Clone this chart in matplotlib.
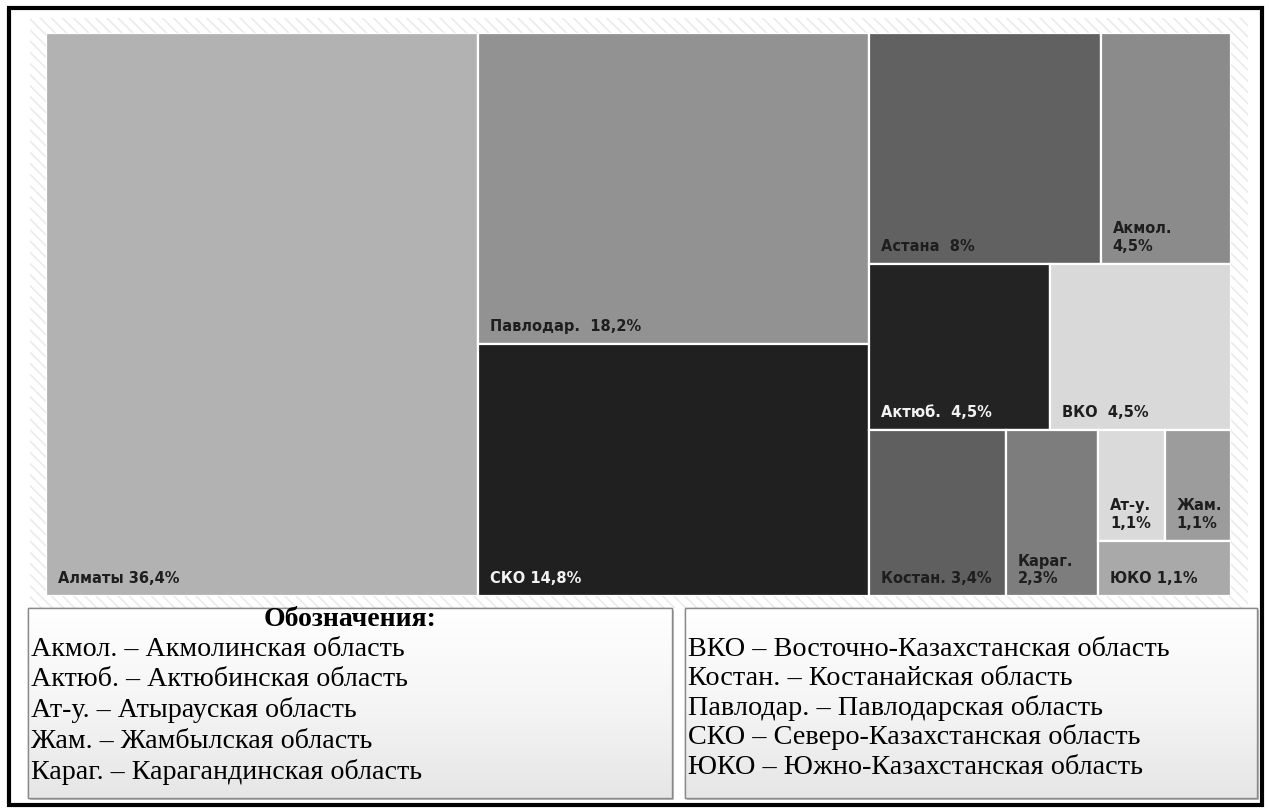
import matplotlib.pyplot as plt
import matplotlib.patches as mpatches
from matplotlib.colors import LinearSegmentedColormap
import numpy as np

# regions and their share, %
labels = ["Алматы", "Павлодар.", "СКО", "Астана", "Акмол.", "Актюб.",
          "ВКО", "Костан.", "Караг.", "Ат-у.", "Жам.", "ЮКО"]
shares = [36.4, 18.2, 14.8, 8, 4.5, 4.5, 4.5, 3.4, 2.3, 1.1, 1.1, 1.1]
fills = ["#b2b2b2", "#929292", "#202020", "#616161", "#8b8b8b", "#232323",
         "#d9d9d9", "#5f5f5f", "#7d7d7d", "#dadada", "#9c9c9c", "#a9a9a9"]
text_colors = ["#1e1e1e", "#1e1e1e", "#f2f2f2", "#1e1e1e", "#1e1e1e", "#f2f2f2",
               "#1e1e1e", "#1e1e1e", "#1e1e1e", "#1e1e1e", "#1e1e1e", "#1e1e1e"]
# what goes between name and percent in each cell label
seps = [" ", "  ", " ", "  ", "\n", "  ", "  ", " ", "\n", "\n", "\n", " "]

# nesting of the treemap (slice and dice, columns first)
tree = [0, [1, 2], [[3, 4], [5, 6], [7, 8, [[9, 10], 11]]]]

legend_title = "Обозначения:"
legend_left = ["Акмол. – Акмолинская область",
               "Актюб. – Актюбинская область",
               "Ат-у. – Атырауская область",
               "Жам. – Жамбылская область",
               "Караг. – Карагандинская область"]
legend_right = ["ВКО – Восточно-Казахстанская область",
                "Костан. – Костанайская область",
                "Павлодар. – Павлодарская область",
                "СКО – Северо-Казахстанская область",
                "ЮКО – Южно-Казахстанская область"]


def total(node):
    if isinstance(node, int):
        return shares[node]
    return sum(total(n) for n in node)


def layout(node, x, y, w, h, horiz, out):
    if isinstance(node, int):
        out[node] = (x, y, w, h)
        return
    t = total(node)
    for child in node:
        f = total(child) / t
        if horiz:
            layout(child, x, y, w * f, h, False, out)
            x += w * f
        else:
            layout(child, x, y, w, h * f, True, out)
            y += h * f


W, H = 1269, 811
fig = plt.figure(figsize=(W / 100, H / 100), dpi=100)
plt.rcParams["hatch.linewidth"] = 1.2

# background, frame and legend boxes in pixel units
bg = fig.add_axes([0, 0, 1, 1])
bg.set_xlim(0, W)
bg.set_ylim(H, 0)
bg.axis("off")
bg.add_patch(mpatches.Rectangle((30, 18), 1218, 590, facecolor="white",
                                edgecolor="#ebebeb", hatch="\\\\\\", lw=0))
bg.add_patch(mpatches.Rectangle((9, 8), 1253, 797, fill=False,
                                edgecolor="black", lw=3))

grad = LinearSegmentedColormap.from_list("g", ["#ffffff", "#f5f5f5", "#e6e6e6"])
boxes = [(28, 608, 644, 190), (685, 608, 572, 190)]
for bx, by, bw, bh in boxes:
    bg.add_patch(mpatches.Rectangle((bx + 2, by + 2), bw, bh, facecolor="#c4c4c4",
                                    edgecolor="none"))
    box = mpatches.Rectangle((bx, by), bw, bh, facecolor="white",
                             edgecolor="#8a8a8a", lw=1)
    bg.add_patch(box)
    im = bg.imshow(np.linspace(0, 1, 100).reshape(-1, 1), cmap=grad, aspect="auto",
                   extent=(bx, bx + bw, by + bh, by), zorder=2)
    im.set_clip_path(box)
    bg.add_patch(mpatches.Rectangle((bx, by), bw, bh, fill=False,
                                    edgecolor="#8a8a8a", lw=1, zorder=3))

serif = "Liberation Serif"
bg.text(350, 620, legend_title, family=serif, weight="bold", fontsize=20,
        ha="center", va="center", zorder=4)
for i, s in enumerate(legend_left):
    bg.text(31, 649 + 30.7 * i, s, family=serif, fontsize=20.2, va="center", zorder=4)
for i, s in enumerate(legend_right):
    bg.text(688, 649 + 29.5 * i, s, family=serif, fontsize=20.3, va="center", zorder=4)

# treemap
ax = fig.add_axes([46 / W, 1 - 596 / H, (1231 - 46) / W, (596 - 33) / H])
ax.set_xlim(0, 1)
ax.set_ylim(1, 0)
ax.axis("off")

rects = {}
layout(tree, 0, 0, 1, 1, True, rects)
for i, lab in enumerate(labels):
    x, y, w, h = rects[i]
    ax.add_patch(mpatches.Rectangle((x, y), w, h, facecolor=fills[i],
                                    edgecolor="white", lw=1.6))
    pct = f"{shares[i]:g}".replace(".", ",") + "%"
    ax.annotate(lab + seps[i] + pct, xy=(x, y + h), xytext=(12, 10),
                textcoords="offset pixels", fontsize=10.5, weight="bold",
                color=text_colors[i], ha="left", va="bottom", linespacing=1.2)

fig.savefig("out.png", dpi=100)
